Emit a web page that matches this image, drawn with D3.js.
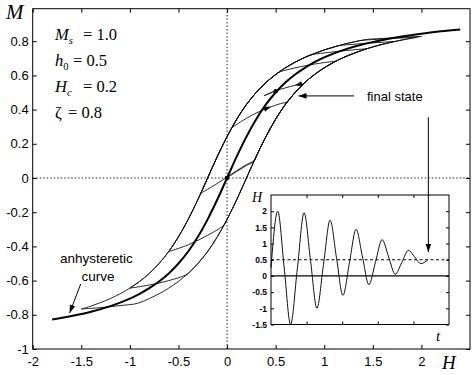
<!DOCTYPE html>
<html><head><meta charset="utf-8">
<script src="https://cdn.jsdelivr.net/npm/d3@7"></script>
<style>body{margin:0;background:#fff}svg{display:block}</style>
</head><body>
<svg id="c" width="474" height="375"></svg>
<script>
// ---------- data ----------
const xTicks = [-2,-1.5,-1,-0.5,0,0.5,1,1.5,2];
const yTicks = [-1,-0.8,-0.6,-0.4,-0.2,0,0.2,0.4,0.6,0.8];
const insetYTicks = [-1.5,-1,-0.5,0,0.5,1,1.5,2];
const insetTTicks = [1,2,3,4];

// anhysteretic curve
const anhH = [-1.8,-1.6,-1.4,-1.2,-1.0,-0.9,-0.8,-0.7,-0.6,-0.5,-0.4,-0.3,-0.2,-0.1,0,0.1,0.2,0.3,0.4,0.5,0.6,0.7,0.8,0.9,1.0,1.2,1.4,1.6,1.8,2.0,2.2,2.4];
const anhM = [-0.828,-0.807,-0.782,-0.749,-0.705,-0.677,-0.644,-0.605,-0.558,-0.5,-0.430,-0.344,-0.242,-0.126,0,0.126,0.242,0.344,0.430,0.5,0.558,0.605,0.644,0.677,0.705,0.749,0.782,0.807,0.828,0.844,0.858,0.869];

// trajectory branches [H, M]
const branch0 = [[0,0],[0.1,0.038],[0.2,0.073],[0.275,0.096],[0.3,0.126],[0.4,0.242],[0.5,0.344],[0.6,0.430],[0.7,0.5],[0.8,0.558],[0.9,0.605],[1.0,0.644],[1.1,0.677],[1.2,0.705],[1.3,0.728],[1.4,0.749],[1.6,0.782],[1.8,0.807],[2.0,0.828]];
const branch1 = [[2.0,0.828],[1.8,0.823],[1.6,0.816],[1.42,0.809],[1.3,0.795],[1.2,0.782],[1.1,0.766],[1.0,0.749],[0.9,0.728],[0.8,0.705],[0.7,0.677],[0.6,0.644],[0.5,0.605],[0.4,0.558],[0.3,0.5],[0.2,0.430],[0.1,0.344],[0,0.242],[-0.1,0.126],[-0.2,0],[-0.3,-0.126],[-0.4,-0.242],[-0.5,-0.344],[-0.6,-0.430],[-0.7,-0.5],[-0.8,-0.558],[-0.9,-0.605],[-1.0,-0.644],[-1.1,-0.677],[-1.2,-0.705],[-1.3,-0.728],[-1.4,-0.749],[-1.5,-0.766]];
const branch2 = [[-1.5,-0.766],[-1.3,-0.758],[-1.1,-0.746],[-0.92,-0.733],[-0.8,-0.705],[-0.7,-0.677],[-0.6,-0.644],[-0.5,-0.605],[-0.4,-0.558],[-0.3,-0.5],[-0.2,-0.430],[-0.1,-0.344],[0,-0.242],[0.1,-0.126],[0.2,0],[0.3,0.126],[0.4,0.242],[0.5,0.344],[0.6,0.430],[0.7,0.5],[0.8,0.558],[0.9,0.605],[1.0,0.644],[1.1,0.677],[1.2,0.705],[1.3,0.728],[1.4,0.749],[1.6,0.782],[1.8,0.807],[1.95,0.823]];
const branch3 = [[1.95,0.823],[1.8,0.819],[1.6,0.813],[1.38,0.804],[1.3,0.795],[1.2,0.782],[1.1,0.766],[1.0,0.749],[0.9,0.728],[0.8,0.705],[0.7,0.677],[0.6,0.644],[0.5,0.605],[0.4,0.558],[0.3,0.5],[0.2,0.430],[0.1,0.344],[0,0.242],[-0.1,0.126],[-0.2,0],[-0.3,-0.126],[-0.4,-0.242],[-0.5,-0.344],[-0.6,-0.430],[-0.7,-0.5],[-0.8,-0.558],[-0.9,-0.605],[-1.0,-0.644]];
const branch4 = [[-1.0,-0.644],[-0.8,-0.626],[-0.6,-0.600],[-0.415,-0.564],[-0.35,-0.530],[-0.3,-0.5],[-0.2,-0.430],[-0.1,-0.344],[0,-0.242],[0.1,-0.126],[0.2,0],[0.3,0.126],[0.4,0.242],[0.5,0.344],[0.6,0.430],[0.7,0.5],[0.8,0.558],[0.9,0.605],[1.0,0.644],[1.1,0.677],[1.2,0.705],[1.3,0.728],[1.4,0.749],[1.6,0.782],[1.72,0.798]];
const branch5 = [[1.72,0.798],[1.6,0.794],[1.4,0.786],[1.14,0.773],[1.1,0.766],[1.0,0.749],[0.9,0.728],[0.8,0.705],[0.7,0.677],[0.6,0.644],[0.5,0.605],[0.4,0.558],[0.3,0.5],[0.2,0.430],[0.1,0.344],[0,0.242],[-0.1,0.126],[-0.2,0],[-0.3,-0.126],[-0.4,-0.242],[-0.5,-0.344],[-0.6,-0.430]];
const branch6 = [[-0.6,-0.430],[-0.4,-0.391],[-0.2,-0.335],[-0.028,-0.273],[0,-0.242],[0.1,-0.126],[0.2,0],[0.3,0.126],[0.4,0.242],[0.5,0.344],[0.6,0.430],[0.7,0.5],[0.8,0.558],[0.9,0.605],[1.0,0.644],[1.1,0.677],[1.2,0.705],[1.3,0.728],[1.44,0.756]];
const branch7 = [[1.44,0.756],[1.2,0.744],[1.0,0.731],[0.855,0.719],[0.8,0.705],[0.7,0.677],[0.6,0.644],[0.5,0.605],[0.4,0.558],[0.3,0.5],[0.2,0.430],[0.1,0.344],[0,0.242],[-0.1,0.126],[-0.2,0],[-0.27,-0.089]];
const branch8 = [[-0.27,-0.089],[-0.1,-0.032],[0,0.006],[0.1,0.043],[0.2,0.078],[0.282,0.104],[0.3,0.126],[0.4,0.242],[0.5,0.344],[0.6,0.430],[0.7,0.5],[0.8,0.558],[0.9,0.605],[1.0,0.644],[1.12,0.683]];
const branch9 = [[1.12,0.683],[1.0,0.675],[0.8,0.656],[0.6,0.630],[0.535,0.619],[0.5,0.605],[0.4,0.558],[0.3,0.5],[0.2,0.430],[0.1,0.344],[0.05,0.295]];
const branch10 = [[0.05,0.295],[0.15,0.332],[0.25,0.365],[0.35,0.393],[0.45,0.416],[0.55,0.435],[0.623,0.447],[0.7,0.5],[0.79,0.552]];
const branch11 = [[0.79,0.552],[0.7,0.542],[0.6,0.527],[0.5,0.510],[0.38,0.481]];
const branch12 = [[0.38,0.481],[0.45,0.497],[0.5,0.507]];
const branches = [branch0,branch1,branch2,branch3,branch4,branch5,branch6,branch7,branch8,branch9,branch10,branch11,branch12];

// inset: applied field H(t)
const insetT = [0,0.19,0.37,0.55,0.74,0.93,1.11,1.29,1.475,1.66,1.84,2.02,2.205,2.39,2.57,2.75,2.935,3.12,3.305,3.49,3.675,3.86,4.035,4.21,4.42];
const insetH = [0.25,2.0,0.25,-1.5,0.225,1.95,0.475,-1.0,0.36,1.72,0.56,-0.6,0.42,1.44,0.585,-0.27,0.425,1.12,0.585,0.05,0.42,0.79,0.585,0.38,0.52];
const insetFinal = 0.5;

// ---------- drawing ----------
const svg = d3.select('#c');
const x = d3.scaleLinear().domain([-2,2.5]).range([32.7,470]);
const y = d3.scaleLinear().domain([-1,0.99]).range([349,8.7]);
const SANS = '"Liberation Sans", Arial, Helvetica, sans-serif';
const SERIF = '"Liberation Serif", "Times New Roman", serif';

// dotted zero lines
svg.append('line').attr('x1',x(0)).attr('x2',x(0)).attr('y1',y(-1)).attr('y2',y(0.99))
  .attr('stroke','#222').attr('stroke-width',1).attr('stroke-dasharray','1.5,2');
svg.append('line').attr('x1',x(-2)).attr('x2',x(2.5)).attr('y1',y(0)).attr('y2',y(0))
  .attr('stroke','#222').attr('stroke-width',1).attr('stroke-dasharray','1.5,2');

// axes (ticks inward)
const fmt = d => String(d);
const gB = svg.append('g').attr('transform',`translate(0,${y(-1)})`)
  .call(d3.axisBottom(x).tickValues(xTicks).tickSize(-4).tickPadding(8).tickFormat(fmt));
const gT = svg.append('g').attr('transform',`translate(0,${y(0.99)})`)
  .call(d3.axisTop(x).tickValues(xTicks).tickSize(-4).tickFormat(''));
const gL = svg.append('g').attr('transform',`translate(${x(-2)},0)`)
  .call(d3.axisLeft(y).tickValues(yTicks).tickSize(-4).tickPadding(4).tickFormat(fmt));
const gR = svg.append('g').attr('transform',`translate(${x(2.5)},0)`)
  .call(d3.axisRight(y).tickValues(yTicks).tickSize(-4).tickFormat(''));
[gB,gT,gL,gR].forEach(g=>{
  g.select('.domain').remove();
  g.selectAll('line').attr('stroke','#000');
  g.selectAll('text').attr('font-family',SANS).attr('font-size',13).attr('fill','#000');
});
svg.append('rect').attr('x',x(-2)).attr('y',y(0.99)).attr('width',x(2.5)-x(-2)).attr('height',y(-1)-y(0.99))
  .attr('fill','none').attr('stroke','#000').attr('stroke-width',1);

// curves
const line = d3.line().x(d=>x(d[0])).y(d=>y(d[1])).curve(d3.curveCatmullRom.alpha(0.5));
branches.forEach(b=>{
  svg.append('path').attr('d',line(b)).attr('fill','none').attr('stroke','#111').attr('stroke-width',0.9);
});
const anh = anhH.map((h,i)=>[h,anhM[i]]);
svg.append('path').attr('d',line(anh)).attr('fill','none').attr('stroke','#000').attr('stroke-width',2);

function head(px,py,ang,len=7,hw=2.6){
  const c=Math.cos(ang), s=Math.sin(ang);
  const bx=px-len*c, by=py-len*s;
  svg.append('path').attr('d',`M${px},${py}L${bx-hw*s},${by+hw*c}L${bx+hw*s},${by-hw*c}Z`).attr('fill','#000');
}
function arrowOn(b,i){
  const p=b[i], a=b[i-1], n=b[i+1];
  const ang=Math.atan2(y(n[1])-y(a[1]), x(n[0])-x(a[0]));
  head(x(p[0]),y(p[1]),ang);
}
arrowOn(branch10,4);
arrowOn(branch11,1);

// start and final dots
svg.append('circle').attr('cx',x(branch0[0][0])).attr('cy',y(branch0[0][1])).attr('r',2.3).attr('fill','#000');
const fin = branch12[branch12.length-1];
svg.append('circle').attr('cx',x(fin[0])).attr('cy',y(fin[1])).attr('r',2.2).attr('fill','#000');

// axis titles
svg.append('text').attr('x',6).attr('y',19).attr('font-family',SERIF).attr('font-style','italic').attr('font-size',21).text('M');
svg.append('text').attr('x',442).attr('y',369).attr('font-family',SERIF).attr('font-style','italic').attr('font-size',19).text('H');

// parameters
const params = [
  {sym:'M', sub:'s', subItalic:true, val:'= 1.0', vx:83},
  {sym:'h', sub:'0', subItalic:false, val:'= 0.5', vx:73},
  {sym:'H', sub:'c', subItalic:true, val:'= 0.2', vx:83},
  {sym:'ζ', sub:'', subItalic:false, val:'= 0.8', vx:68}
];
params.forEach((p,i)=>{
  const by = 40 + i*26;
  const t = svg.append('text').attr('x',55).attr('y',by).attr('font-family',SERIF).attr('font-size',16.5);
  t.append('tspan').attr('font-style', p.sym==='ζ'?'normal':'italic').text(p.sym);
  if(p.sub) t.append('tspan').attr('font-size',10.5).attr('dy',4).attr('font-style',p.subItalic?'italic':'normal').text(p.sub);
  svg.append('text').attr('x',p.vx).attr('y',by).attr('font-family',SERIF).attr('font-size',16.5).text(p.val);
});

// annotations
svg.append('text').attr('x',60).attr('y',263).attr('font-family',SANS).attr('font-size',13.5).text('anhysteretic');
svg.append('text').attr('x',81.5).attr('y',281).attr('font-family',SANS).attr('font-size',13.5).text('curve');
function arrow(x1,y1,x2,y2){
  svg.append('line').attr('x1',x1).attr('y1',y1).attr('x2',x2).attr('y2',y2).attr('stroke','#000').attr('stroke-width',1);
  head(x2,y2,Math.atan2(y2-y1,x2-x1),8,2.8);
}
arrow(80.7,284,x(-1.62),y(-0.79));
svg.append('text').attr('x',367).attr('y',101).attr('font-family',SANS).attr('font-size',13).text('final state');
arrow(354,y(0.48),298.5,y(0.48));

// ---------- inset ----------
const xi = d3.scaleLinear().domain([0,5]).range([271,449]);
const yi = d3.scaleLinear().domain([-1.5,2.5]).range([324.5,195]);
const ig = svg.append('g');
ig.append('rect').attr('x',xi(0)).attr('y',yi(2.5)).attr('width',xi(5)-xi(0)).attr('height',yi(-1.5)-yi(2.5)).attr('fill','#fff');
const iL = ig.append('g').attr('transform',`translate(${xi(0)},0)`)
  .call(d3.axisLeft(yi).tickValues(insetYTicks).tickSize(-3).tickPadding(4).tickFormat(fmt));
const iR = ig.append('g').attr('transform',`translate(${xi(5)},0)`)
  .call(d3.axisRight(yi).tickValues(insetYTicks).tickSize(-3).tickFormat(''));
const iB = ig.append('g').attr('transform',`translate(0,${yi(-1.5)})`)
  .call(d3.axisBottom(xi).tickValues(insetTTicks).tickSize(-3).tickFormat(''));
const iT = ig.append('g').attr('transform',`translate(0,${yi(2.5)})`)
  .call(d3.axisTop(xi).tickValues(insetTTicks).tickSize(-3).tickFormat(''));
[iL,iR,iB,iT].forEach(g=>{
  g.select('.domain').remove();
  g.selectAll('line').attr('stroke','#000');
  g.selectAll('text').attr('font-family',SANS).attr('font-size',8.5).attr('font-weight','bold').attr('fill','#000');
});
ig.append('line').attr('x1',xi(0)).attr('x2',xi(5)).attr('y1',yi(0)).attr('y2',yi(0)).attr('stroke','#000').attr('stroke-width',1.3);
ig.append('line').attr('x1',xi(0)).attr('x2',xi(5)).attr('y1',yi(insetFinal)).attr('y2',yi(insetFinal))
  .attr('stroke','#000').attr('stroke-width',1).attr('stroke-dasharray','3,2.5');
const iline = d3.line().x(d=>xi(d[0])).y(d=>yi(d[1])).curve(d3.curveMonotoneX);
ig.append('path').attr('d',iline(insetT.map((t,i)=>[t,insetH[i]]))).attr('fill','none').attr('stroke','#111').attr('stroke-width',1);
ig.append('rect').attr('x',xi(0)).attr('y',yi(2.5)).attr('width',xi(5)-xi(0)).attr('height',yi(-1.5)-yi(2.5))
  .attr('fill','none').attr('stroke','#000').attr('stroke-width',1);
ig.append('text').attr('x',252).attr('y',202).attr('font-family',SERIF).attr('font-style','italic').attr('font-size',14).text('H');
ig.append('text').attr('x',436).attr('y',341).attr('font-family',SERIF).attr('font-style','italic').attr('font-size',15).text('t');

// final-state arrow down into the inset
const tEnd = insetT[insetT.length-1], hEnd = insetH[insetH.length-1];
arrow(xi(tEnd), y(0.355), xi(tEnd), yi(hEnd)-7);
</script></body></html>
